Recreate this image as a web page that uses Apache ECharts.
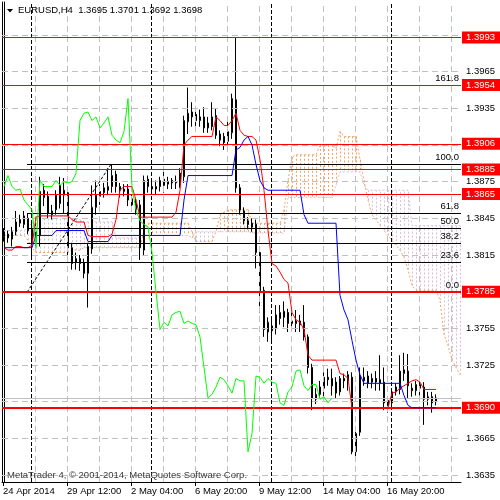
<!DOCTYPE html>
<html><head><meta charset="utf-8">
<script src="https://cdn.jsdelivr.net/npm/echarts@6/dist/echarts.min.js"></script>
<style>html,body{margin:0;padding:0;background:#fff}#c{width:500px;height:500px}</style>
</head><body><div id="c"></div>
<script>
// ---- data (EURUSD H4) ----
const opens = [1.3830,1.3832,1.3828,1.3834,1.3841,1.3840,1.3845,1.3836,1.3826,1.3831,
1.3862,1.3863,1.3851,1.3852,1.3857,1.3864,1.3866,1.3821,1.3812,1.3812,
1.3809,1.3800,1.3820,1.3854,1.3863,1.3866,1.3868,1.3871,1.3881,1.3871,
1.3867,1.3869,1.3861,1.3857,1.3856,1.3819,1.3877,1.3869,1.3869,1.3871,
1.3877,1.3873,1.3876,1.3874,1.3874,1.3879,1.3924,1.3928,1.3930,1.3925,
1.3928,1.3919,1.3920,1.3929,1.3914,1.3912,1.3908,1.3915,1.3942,1.3870,
1.3851,1.3843,1.3841,1.3840,1.3817,1.3786,1.3752,1.3753,1.3755,1.3763,
1.3764,1.3768,1.3759,1.3761,1.3761,1.3760,1.3748,1.3723,1.3697,1.3701,
1.3706,1.3715,1.3714,1.3711,1.3703,1.3714,1.3717,1.3715,1.3654,1.3670,
1.3712,1.3716,1.3711,1.3714,1.3713,1.3711,1.3696,1.3694,1.3703,1.3705,
1.3718,1.3720,1.3706,1.3704,1.3706,1.3707,1.3697,1.3699,1.3695];
const closes = [1.3833,1.3829,1.3834,1.3842,1.3844,1.3847,1.3835,1.3825,1.3834,1.3867,
1.3868,1.3849,1.3848,1.3864,1.3872,1.3868,1.3821,1.3808,1.3809,1.3808,
1.3800,1.3822,1.3854,1.3864,1.3867,1.3870,1.3871,1.3880,1.3871,1.3868,
1.3869,1.3860,1.3856,1.3852,1.3821,1.3876,1.3871,1.3871,1.3871,1.3876,
1.3872,1.3875,1.3874,1.3875,1.3882,1.3925,1.3931,1.3932,1.3925,1.3928,
1.3919,1.3923,1.3928,1.3913,1.3909,1.3907,1.3916,1.3943,1.3870,1.3852,
1.3843,1.3840,1.3838,1.3817,1.3785,1.3754,1.3760,1.3757,1.3766,1.3768,
1.3769,1.3759,1.3761,1.3759,1.3758,1.3748,1.3723,1.3698,1.3701,1.3707,
1.3715,1.3713,1.3708,1.3702,1.3714,1.3712,1.3712,1.3654,1.3669,1.3716,
1.3715,1.3710,1.3714,1.3711,1.3710,1.3694,1.3692,1.3703,1.3707,1.3720,
1.3721,1.3708,1.3704,1.3709,1.3709,1.3697,1.3699,1.3694,1.3698];
const lows = [1.3826,1.3825,1.3822,1.3831,1.3838,1.3837,1.3832,1.3813,1.3822,1.3822,
1.3855,1.3845,1.3844,1.3848,1.3853,1.3849,1.3815,1.3803,1.3803,1.3802,
1.3796,1.3772,1.3816,1.3848,1.3856,1.3862,1.3864,1.3866,1.3866,1.3862,
1.3863,1.3855,1.3851,1.3848,1.3811,1.3815,1.3866,1.3865,1.3864,1.3867,
1.3866,1.3869,1.3869,1.3869,1.3870,1.3874,1.3914,1.3920,1.3916,1.3920,
1.3915,1.3915,1.3917,1.3910,1.3904,1.3901,1.3905,1.3910,1.3866,1.3848,
1.3840,1.3836,1.3834,1.3804,1.3768,1.3748,1.3744,1.3744,1.3750,1.3758,
1.3756,1.3752,1.3753,1.3752,1.3752,1.3745,1.3718,1.3688,1.3693,1.3698,
1.3698,1.3708,1.3700,1.3698,1.3700,1.3706,1.3704,1.3652,1.3646,1.3667,
1.3708,1.3706,1.3706,1.3704,1.3704,1.3688,1.3686,1.3690,1.3700,1.3701,
1.3712,1.3698,1.3699,1.3700,1.3700,1.3676,1.3692,1.3686,1.3692];
const highs = [1.3837,1.3835,1.3838,1.3851,1.3848,1.3851,1.3849,1.3843,1.3841,1.3879,
1.3873,1.3867,1.3856,1.3868,1.3879,1.3878,1.3868,1.3825,1.3817,1.3815,
1.3812,1.3825,1.3872,1.3876,1.3873,1.3874,1.3886,1.3889,1.3884,1.3874,
1.3873,1.3873,1.3864,1.3861,1.3860,1.3880,1.3880,1.3875,1.3876,1.3879,
1.3886,1.3879,1.3878,1.3880,1.3886,1.3929,1.3952,1.3940,1.3934,1.3934,
1.3936,1.3928,1.3940,1.3935,1.3917,1.3915,1.3924,1.3947,1.3993,1.3873,
1.3854,1.3846,1.3845,1.3844,1.3820,1.3789,1.3764,1.3762,1.3774,1.3774,
1.3777,1.3771,1.3768,1.3770,1.3766,1.3774,1.3750,1.3726,1.3706,1.3712,
1.3719,1.3722,1.3722,1.3715,1.3716,1.3718,1.3720,1.3719,1.3672,1.3723,
1.3723,1.3720,1.3718,1.3720,1.3733,1.3723,1.3699,1.3706,1.3710,1.3733,
1.3735,1.3734,1.3710,1.3712,1.3712,1.3711,1.3703,1.3703,1.3701];

const tenkan = [1.3821,1.3819,1.3819,1.3822,1.3822,1.3821,1.3821,1.3823,1.3846,1.3847,
1.3847,1.3847,1.3847,1.3847,1.3847,1.3847,1.3847,1.3844,1.3842,1.3842,
1.3842,1.3831,1.3830,1.3830,1.3830,1.3830,1.3830,1.3832,1.3844,1.3868,
1.3871,1.3871,1.3871,1.3860,1.3846,1.3846,1.3846,1.3846,1.3846,1.3846,
1.3846,1.3846,1.3846,1.3850,1.3868,1.3905,1.3909,1.3912,1.3912,1.3912,
1.3912,1.3912,1.3912,1.3928,1.3925,1.3921,1.3921,1.3925,1.3931,1.3917,
1.3913,1.3912,1.3912,1.3909,1.3893,1.3868,1.3835,1.3808,1.3806,1.3801,
1.3795,1.3792,1.3768,1.3762,1.3760,1.3754,1.3733,1.3729,1.3729,1.3729,
1.3729,1.3729,1.3729,1.3729,1.3718,1.3717,1.3714,1.3690,1.3690,1.3690,
1.3690,1.3690,1.3690,1.3690,1.3690,1.3690,1.3690,1.3702,1.3703,1.3706,
1.3708,1.3710,1.3712,1.3713,1.3711,1.3705,1.3705,1.3705,1.3705];
const kijun = [1.3821,1.3821,1.3821,1.3821,1.3821,1.3821,1.3821,1.3821,1.3831,1.3831,
1.3831,1.3831,1.3831,1.3835,1.3835,1.3835,1.3835,1.3835,1.3835,1.3835,
1.3835,1.3826,1.3826,1.3826,1.3826,1.3826,1.3826,1.3831,1.3831,1.3831,
1.3831,1.3831,1.3831,1.3831,1.3831,1.3831,1.3831,1.3831,1.3831,1.3831,
1.3831,1.3831,1.3831,1.3831,1.3831,1.3860,1.3880,1.3880,1.3880,1.3880,
1.3880,1.3880,1.3880,1.3880,1.3880,1.3880,1.3880,1.3880,1.3901,1.3903,
1.3909,1.3912,1.3905,1.3889,1.3876,1.3870,1.3868,1.3868,1.3868,1.3868,
1.3868,1.3868,1.3868,1.3868,1.3868,1.3848,1.3841,1.3841,1.3841,1.3841,
1.3841,1.3841,1.3841,1.3841,1.3782,1.3770,1.3762,1.3745,1.3729,1.3717,
1.3710,1.3710,1.3710,1.3710,1.3710,1.3710,1.3710,1.3710,1.3710,1.3710,
1.3700,1.3692,1.3690,1.3690,1.3690,1.3690,1.3690,1.3690,1.3690];
const chikou = [1.3871,1.3880,1.3871,1.3868,1.3869,1.3860,1.3856,1.3852,1.3821,1.3876,
1.3871,1.3871,1.3871,1.3876,1.3872,1.3875,1.3874,1.3875,1.3882,1.3925,
1.3931,1.3932,1.3925,1.3928,1.3919,1.3923,1.3928,1.3913,1.3909,1.3907,
1.3916,1.3943,1.3870,1.3852,1.3843,1.3840,1.3838,1.3817,1.3785,1.3754,
1.3760,1.3757,1.3766,1.3768,1.3769,1.3759,1.3761,1.3759,1.3758,1.3748,
1.3723,1.3698,1.3701,1.3707,1.3715,1.3713,1.3708,1.3702,1.3714,1.3712,
1.3712,1.3654,1.3669,1.3716,1.3715,1.3710,1.3714,1.3711,1.3710,1.3694,
1.3692,1.3703,1.3707,1.3720,1.3721,1.3708,1.3704,1.3709,1.3709,1.3697,
1.3699,1.3694,1.3698];
const senkouA = [1.3831,1.3831,1.3831,1.3831,1.3831,1.3831,1.3827,1.3821,1.3817,1.3817,
1.3817,1.3817,1.3817,1.3817,1.3817,1.3817,1.3817,1.3819,1.3819,1.3819,
1.3821,1.3821,1.3821,1.3821,1.3821,1.3821,1.3821,1.3821,1.3821,1.3821,
1.3821,1.3821,1.3821,1.3821,1.3821,1.3835,1.3841,1.3841,1.3841,1.3841,
1.3841,1.3841,1.3841,1.3841,1.3841,1.3841,1.3841,1.3834,1.3826,1.3826,
1.3826,1.3826,1.3826,1.3834,1.3848,1.3850,1.3852,1.3852,1.3852,1.3852,
1.3852,1.3852,1.3841,1.3841,1.3841,1.3841,1.3841,1.3841,1.3841,1.3841,
1.3852,1.3876,1.3895,1.3897,1.3897,1.3897,1.3897,1.3897,1.3897,1.3905,
1.3905,1.3905,1.3905,1.3902,1.3916,1.3912,1.3912,1.3912,1.3912,1.3893,
1.3876,1.3860,1.3848,1.3844,1.3839,1.3835,1.3831,1.3827,1.3823,1.3819,
1.3813,1.3803,1.3790,1.3786,1.3786,1.3786,1.3786,1.3786,1.3786,1.3778,
1.3750,1.3741,1.3729,1.3723,1.3717];
const senkouB = [1.3835,1.3835,1.3835,1.3835,1.3835,1.3835,1.3837,1.3842,1.3847,1.3847,
1.3847,1.3847,1.3847,1.3847,1.3847,1.3847,1.3847,1.3844,1.3844,1.3844,
1.3842,1.3842,1.3842,1.3842,1.3842,1.3842,1.3842,1.3842,1.3829,1.3829,
1.3829,1.3829,1.3829,1.3829,1.3829,1.3831,1.3831,1.3831,1.3831,1.3831,
1.3831,1.3831,1.3831,1.3831,1.3831,1.3831,1.3831,1.3829,1.3834,1.3834,
1.3834,1.3834,1.3834,1.3834,1.3834,1.3834,1.3834,1.3834,1.3834,1.3834,
1.3834,1.3834,1.3833,1.3833,1.3833,1.3833,1.3833,1.3833,1.3833,1.3833,
1.3833,1.3862,1.3862,1.3862,1.3862,1.3862,1.3862,1.3862,1.3862,1.3862,
1.3862,1.3862,1.3862,1.3872,1.3883,1.3883,1.3883,1.3883,1.3883,1.3883,
1.3872,1.3868,1.3868,1.3868,1.3868,1.3868,1.3868,1.3868,1.3868,1.3868,
1.3868,1.3868,1.3839,1.3839,1.3839,1.3839,1.3839,1.3839,1.3839,1.3839,
1.3839,1.3839,1.3839,1.3839,1.3839];

// horizontal price lines, fibonacci levels, axis ticks
const redLines = [1.3993, 1.3954, 1.3906, 1.3885, 1.3865, 1.3785, 1.3690];
const bidPrice = 1.3698;
const fibLevelText = ['0.0', '23.6', '38.2', '50.0', '61.8', '100.0', '161.8'];
const fibLevelPrice = [1.37845, 1.38092, 1.38245, 1.38368, 1.38492, 1.38892, 1.39539];
const fibAnchorIdx = [5.75, 26.75];
const fibAnchorPrice = [1.37845, 1.38892];
const priceGrid = [1.3635,1.3665,1.3695,1.3725,1.3755,1.3785,1.3815,1.3845,1.3875,1.3905,1.3935,1.3965,1.3995];
const priceLabels = [1.3635,1.3665,1.3725,1.3755,1.3815,1.3845,1.3875,1.3935,1.3965];
const timeTickIdx = [-0.25, 15.75, 31.75, 47.75, 63.75, 79.75, 95.75];
const timeTickText = ['24 Apr 2014','29 Apr 12:00','2 May 04:00','6 May 20:00','9 May 12:00','14 May 04:00','16 May 20:00'];
const timeGridIdx = [7.75,15.75,23.75,31.75,39.75,47.75,55.75,63.75,71.75,79.75,87.75,95.75,103.75,111.75];
const weekSepIdx = [6.75, 36.75, 66.75, 96.75];

// ---- chart ----
const FONT = '"Liberation Sans", Arial, sans-serif';
const FS = 9.5;
const chart = echarts.init(document.getElementById('c'), null, {renderer: 'canvas'});
const candleData = opens.map((o, i) => [i, o, closes[i], lows[i], highs[i]]);
const idxPairs = arr => arr.map((v, i) => [i, v]);
const cloudData = senkouA.map((a, i) => [i, a, senkouB[i]]);
const redSet = new Set(redLines.map(v => v.toFixed(4)));
const allLabels = priceLabels.concat(redLines, [bidPrice]);
const thickRed = new Set(['1.3785', '1.3690']);

const noLbl = {show: false};
const option = {
  animation: false,
  backgroundColor: '#fff',
  grid: {left: 2, right: 39, top: 2, bottom: 18, containLabel: false, outerBoundsMode: 'none'},
  xAxis: {
    type: 'value', min: -0.5, max: 114.25,
    axisLine: {show: true, onZero: false, lineStyle: {color: '#000', width: 1}},
    splitLine: {show: false},
    axisTick: {show: true, length: 4, customValues: timeTickIdx, lineStyle: {color: '#000'}},
    axisLabel: {
      customValues: timeTickIdx, margin: 4, align: 'left',
      color: '#000', fontSize: FS, fontFamily: FONT,
      formatter: v => { const k = timeTickIdx.findIndex(p => Math.abs(p - v) < 1e-6); return k >= 0 ? timeTickText[k] : ''; }
    }
  },
  yAxis: [{
    type: 'value', position: 'right', min: 1.362927, max: 1.402201, scale: true,
    axisLine: {show: true, lineStyle: {color: '#000', width: 1}},
    splitLine: {show: false},
    axisTick: {show: true, length: 4, customValues: priceGrid, lineStyle: {color: '#000'}},
    axisLabel: {
      customValues: allLabels, margin: 1, fontSize: FS, fontFamily: FONT,
      formatter: v => {
        const s = v.toFixed(4);
        if (redSet.has(s)) return '{r|' + s + '}';
        if (Math.abs(v - bidPrice) < 1e-7) return '{k|' + s + '}';
        return '{n|' + s + '}';
      },
      rich: {
        n: {color: '#000', fontSize: FS, fontFamily: FONT, padding: [0, 0, 0, 4]},
        r: {color: '#fff', backgroundColor: '#ff0000', fontSize: FS, fontFamily: FONT, padding: [1, 5, 1, 4]},
        k: {color: '#fff', backgroundColor: '#000', fontSize: FS, fontFamily: FONT, padding: [1, 5, 1, 4]}
      }
    }
  }, {
    type: 'value', position: 'left', min: 1.362927, max: 1.402201, scale: true,
    axisLine: {show: true, lineStyle: {color: '#000', width: 1}},
    axisTick: {show: false}, axisLabel: {show: false}, splitLine: {show: false}
  }],
  graphic: [
    {type: 'polygon', shape: {points: [[7, 9], [13, 9], [10, 12.5]]}, style: {fill: '#000'}, z: 100},
    {type: 'text', z: 100, style: {x: 18, y: 10.5, text: 'EURUSD,H4  1.3695 1.3701 1.3692 1.3698', font: FS + 'px ' + FONT, fill: '#000', verticalAlign: 'middle'}},
    {type: 'text', z: 100, style: {x: 7, y: 475, text: 'MetaTrader 4, © 2001-2014, MetaQuotes Software Corp.', font: FS + 'px ' + FONT, fill: '#3a3a3a', verticalAlign: 'middle'}}
  ],
  series: [
    { // grid and period separators
      type: 'line', data: [], z: 1, silent: true,
      markLine: {
        silent: true, symbol: 'none', label: noLbl, animation: false, precision: 6,
        data: [].concat(
          priceGrid.map(v => ({yAxis: v, lineStyle: {color: '#c0c0c0', width: 1, type: [6, 4]}})),
          timeGridIdx.map(v => ({xAxis: v, lineStyle: {color: '#c0c0c0', width: 1, type: [6, 4]}})),
          weekSepIdx.map(v => ({xAxis: v, lineStyle: {color: '#000', width: 1, type: [4, 2]}}))
        )
      }
    },
    { // ichimoku cloud hatch
      type: 'custom', z: 2, silent: true, clip: true,
      encode: {x: 0, y: [1, 2]},
      data: cloudData,
      renderItem: (params, api) => {
        const i = api.value(0), a = api.value(1), b = api.value(2);
        const pa = api.coord([i, a]), pb = api.coord([i, b]);
        const x = Math.round(pa[0]) + 0.5;
        return {type: 'line', shape: {x1: x, y1: pa[1], x2: x, y2: pb[1]},
          style: {stroke: a >= b ? '#F4A460' : '#D8BFD8', lineWidth: 1, lineDash: [2, 2]}};
      }
    },
    {type: 'line', z: 2, data: idxPairs(senkouA), showSymbol: false, silent: true,
      lineStyle: {color: '#F4A460', width: 1, type: [2, 2]}},
    {type: 'line', z: 2, data: idxPairs(senkouB), showSymbol: false, silent: true,
      lineStyle: {color: '#D8BFD8', width: 1, type: [2, 2]}},
    {
      type: 'candlestick', z: 4, data: candleData, barWidth: 2,
      encode: {x: 0, y: [1, 2, 3, 4]},
      itemStyle: {color: '#fff', color0: '#000', borderColor: '#000', borderColor0: '#000', borderWidth: 1}
    },
    {type: 'line', z: 5, data: idxPairs(tenkan), showSymbol: false, silent: true, lineStyle: {color: '#ff0000', width: 1}},
    {type: 'line', z: 5, data: idxPairs(kijun), showSymbol: false, silent: true, lineStyle: {color: '#0000ff', width: 1}},
    {type: 'line', z: 5, data: idxPairs(chikou), showSymbol: false, silent: true, lineStyle: {color: '#00ff00', width: 1}},
    { // fibonacci, trend, bid line and red price lines (drawn in this order)
      type: 'line', data: [], z: 6, silent: true,
      markLine: {
        silent: true, symbol: 'none', animation: false, precision: 6,
        data: [].concat(
          fibLevelPrice.map((p, k) => [
            {coord: [fibAnchorIdx[0], p], lineStyle: {color: '#000', width: 1, type: 'solid'},
             label: {show: true, position: 'insideEndTop', distance: 2, formatter: fibLevelText[k], color: '#000', fontSize: FS, fontFamily: FONT}},
            {coord: [114.25, p]}
          ]),
          [[{coord: [fibAnchorIdx[0], fibAnchorPrice[0]], lineStyle: {color: '#000', width: 1, type: [3, 2]}, label: noLbl},
            {coord: [fibAnchorIdx[1], fibAnchorPrice[1]]}]],
          [{yAxis: bidPrice, label: noLbl, lineStyle: {color: '#c0c0c0', width: 1, type: 'solid'}}],
          redLines.map(v => ({yAxis: v, label: noLbl,
            lineStyle: {color: '#ff0000', width: thickRed.has(v.toFixed(4)) ? 2 : 1, type: 'solid'}}))
        )
      }
    }
  ]
};
chart.setOption(option);
</script>
</body></html>
